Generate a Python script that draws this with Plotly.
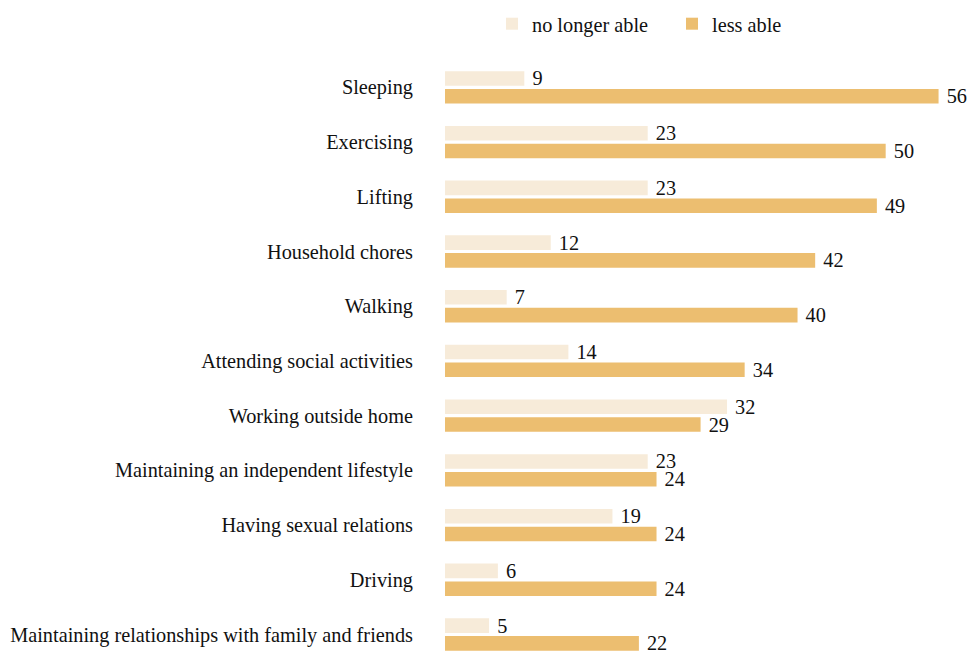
import plotly.graph_objects as go

categories = ["Sleeping", "Exercising", "Lifting", "Household chores", "Walking",
              "Attending social activities", "Working outside home",
              "Maintaining an independent lifestyle", "Having sexual relations",
              "Driving", "Maintaining relationships with family and friends"]
no_longer_able = [9, 23, 23, 12, 7, 14, 32, 23, 19, 6, 5]
less_able = [56, 50, 49, 42, 40, 34, 29, 24, 24, 24, 22]

FONT = "Liberation Serif, Times New Roman, serif"
FS = 20.3
PAD = "\u00a0"

fig = go.Figure()
fig.add_trace(go.Bar(
    y=categories, x=no_longer_able, orientation="h", name="no longer able",
    marker=dict(color="#F7EBD9", line=dict(width=0)),
    text=[PAD + str(v) for v in no_longer_able], textposition="outside",
    constraintext="none",
    textfont=dict(family=FONT, size=FS, color="#111111"), cliponaxis=False,
))
fig.add_trace(go.Bar(
    y=categories, x=less_able, orientation="h", name="less able",
    marker=dict(color="#ECBE70", line=dict(width=0)),
    text=[PAD + str(v) for v in less_able], textposition="outside",
    constraintext="none",
    textfont=dict(family=FONT, size=FS, color="#111111"), cliponaxis=False,
))

fig.update_layout(
    width=970, height=652,
    margin=dict(l=445, r=5, t=60, b=0),
    paper_bgcolor="white", plot_bgcolor="white",
    barmode="group", bargap=0.35, bargroupgap=0.18,
    font=dict(family=FONT, size=FS, color="#111111"),
    legend=dict(orientation="h", x=0.0904, xanchor="left", y=1 - 24 / 652, yanchor="middle",
                yref="container", font=dict(family=FONT, size=FS, color="#111111"),
                entrywidth=135),
    showlegend=True,
)
fig.update_xaxes(range=[0, 59], visible=False, showgrid=False, zeroline=False)
fig.update_yaxes(range=[10.32, -0.5], showgrid=False, zeroline=False, showline=False,
                 ticks="outside", ticklen=27, tickcolor="rgba(0,0,0,0)",
                 tickfont=dict(family=FONT, size=FS, color="#111111"))

fig.write_html("out.html")
